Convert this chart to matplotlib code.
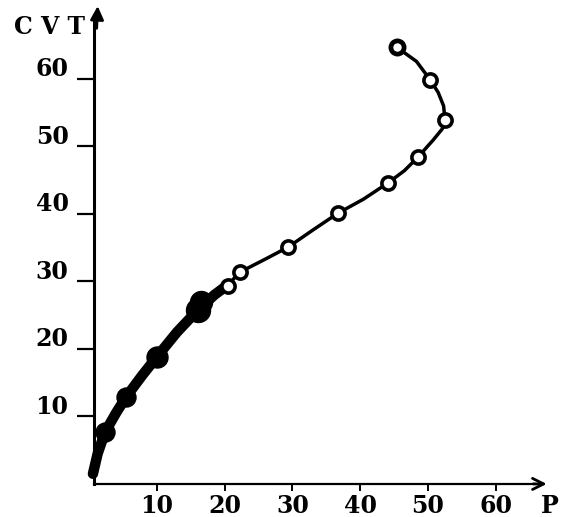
import matplotlib
matplotlib.use("Agg")
import matplotlib.pyplot as plt
import matplotlib.transforms as mtrans

# ---- data ----
filled_P = [0.6, 2.4, 5.5, 10.0, 16.1, 16.6]
filled_C = [1.5, 7.7, 12.9, 18.8, 25.8, 27.0]
filled_size = [6, 19, 19, 21, 24, 22]

open_P = [20.5, 22.3, 29.4, 36.7, 44.1, 48.5, 52.5, 50.3, 45.4]
open_C = [29.3, 31.4, 35.1, 40.1, 44.6, 48.4, 53.9, 59.9, 64.7]

thick_P = [0.6, 1.3, 2.4, 4.0, 5.5, 7.8, 10.0, 13.0, 16.1, 18.5, 20.5]
thick_C = [1.5, 4.5, 7.7, 10.5, 12.9, 16.0, 18.8, 22.5, 25.8, 28.0, 29.5]

thin_P = [18.5, 20.5, 22.3, 26.0, 29.4, 33.0, 36.7, 40.5, 44.1, 46.5, 48.5,
          50.8, 52.1, 52.5, 52.3, 51.5, 50.3, 48.3, 45.4]
thin_C = [28.0, 29.5, 31.4, 33.3, 35.1, 37.6, 40.1, 42.2, 44.6, 46.4, 48.4,
          51.0, 52.6, 53.9, 56.0, 58.0, 59.9, 62.6, 64.7]

x_ticks = [10, 20, 30, 40, 50, 60]
y_ticks = [10, 20, 30, 40, 50, 60]
x_label = "P"
y_label = "C V T"

# ---- figure ----
fig = plt.figure(figsize=(5.63, 5.17), dpi=100)
ax = fig.add_axes([0, 0, 1, 1])
ax.set_xlim(-13.1, 69.9)
ax.set_ylim(-4.9, 71.7)

font = dict(family="DejaVu Serif", size=17, weight="bold")

axis_x = 0.7
for s in ("top", "right"):
    ax.spines[s].set_visible(False)
ax.spines["left"].set_position(("data", axis_x))
ax.spines["bottom"].set_position(("data", 0))
ax.spines["left"].set_linewidth(2.2)
ax.spines["bottom"].set_linewidth(1.6)
ax.spines["left"].set_bounds(0, 68.5)
ax.spines["bottom"].set_bounds(axis_x, 66)

# arrow heads
ax.annotate("", xy=(axis_x + 0.6, 70.8), xytext=(axis_x + 0.45, 67.5),
            arrowprops=dict(arrowstyle="-|>", color="black", lw=2,
                            mutation_scale=20, shrinkA=0, shrinkB=0))
ax.annotate("", xy=(67.5, 0), xytext=(65.5, 0),
            arrowprops=dict(arrowstyle="->", color="black", lw=2,
                            mutation_scale=20, shrinkA=0, shrinkB=0))

ax.set_xticks(x_ticks)
ax.set_xticklabels([str(t) for t in x_ticks], **font)
ax.set_yticks(y_ticks)
ax.set_yticklabels([str(t) for t in y_ticks], **font)
ax.tick_params(axis="y", direction="out", length=12, width=1.6, pad=6)
ax.tick_params(axis="x", direction="out", length=5, width=1.4, pad=2)

off = mtrans.ScaledTranslation(0, 12 / 100, fig.dpi_scale_trans)
for lab in ax.get_yticklabels():
    lab.set_transform(lab.get_transform() + off)

# curve
ax.plot(thin_P, thin_C, color="black", lw=2.5, solid_capstyle="round",
        solid_joinstyle="round", zorder=3)
ax.plot(thick_P, thick_C, color="black", lw=7.5, solid_capstyle="round",
        solid_joinstyle="round", zorder=3)

# filled markers
for p, c, s in zip(filled_P, filled_C, filled_size):
    ax.plot(p, c, "o", color="black", markersize=s * 0.72, zorder=4)

# open markers
ax.plot(open_P[:-1], open_C[:-1], "o", markerfacecolor="white",
        markeredgecolor="black", markersize=9.5, markeredgewidth=2.6, zorder=5)
ax.plot(open_P[-1:], open_C[-1:], "o", markerfacecolor="white",
        markeredgecolor="black", markersize=9.5, markeredgewidth=3.4, zorder=5)

ax.text(-5.8, 67.7, y_label, ha="center", va="center", **font)
ax.text(68.0, -3.3, x_label, ha="center", va="center", **font)

fig.savefig("out.png", dpi=100)
